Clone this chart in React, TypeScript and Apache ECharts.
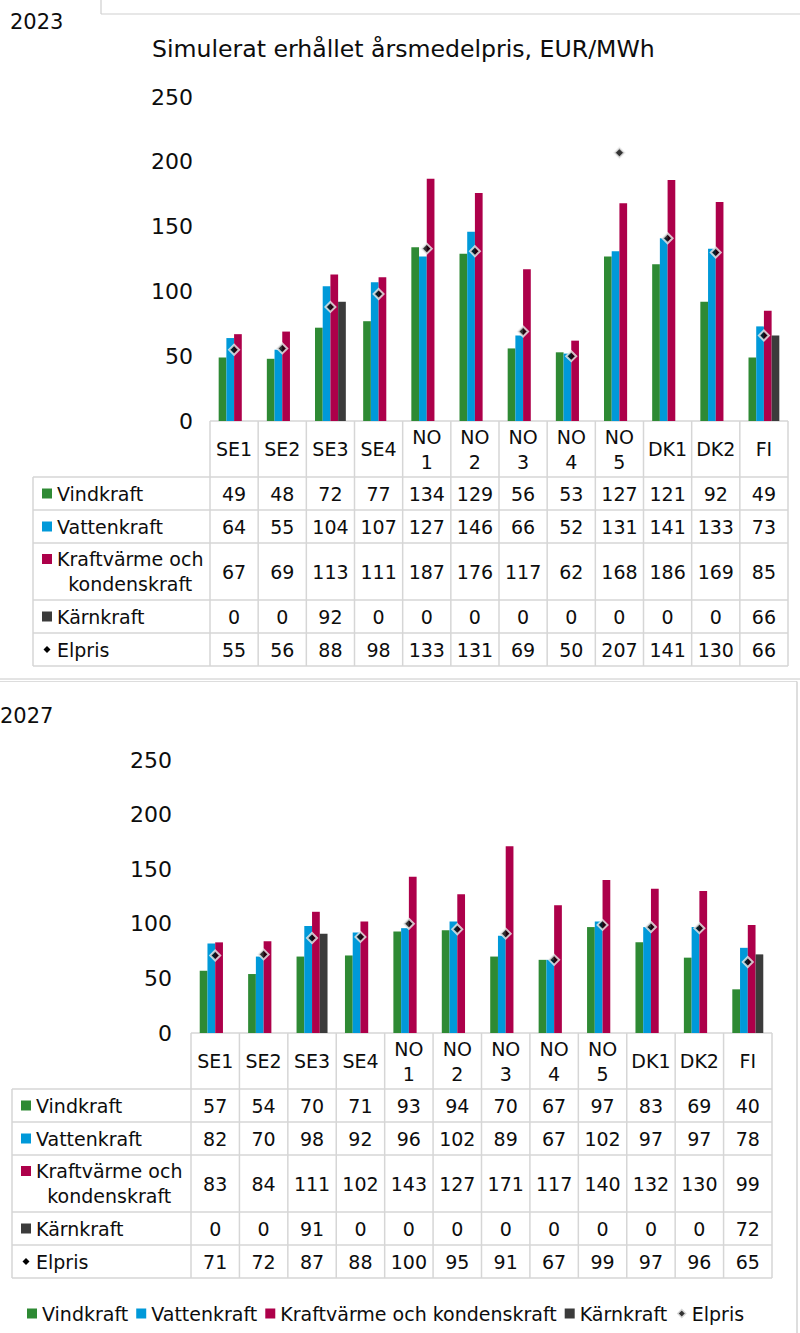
import React, { useEffect, useRef } from 'react';
import * as echarts from 'echarts';

// ---- data -------------------------------------------------------------
const zones = ['SE1', 'SE2', 'SE3', 'SE4', 'NO 1', 'NO 2', 'NO 3', 'NO 4', 'NO 5', 'DK1', 'DK2', 'FI'];
const seriesNames = ['Vindkraft', 'Vattenkraft', 'Kraftvärme och kondenskraft', 'Kärnkraft', 'Elpris'];
const rowLabels = ['Vindkraft', 'Vattenkraft', 'Kraftvärme och\nkondenskraft', 'Kärnkraft', 'Elpris'];
const yTicks = [0, 50, 100, 150, 200, 250];
const chartTitle = 'Simulerat erhållet årsmedelpris, EUR/MWh';

const wind2023 = [49, 48, 72, 77, 134, 129, 56, 53, 127, 121, 92, 49];
const hydro2023 = [64, 55, 104, 107, 127, 146, 66, 52, 131, 141, 133, 73];
const chp2023 = [67, 69, 113, 111, 187, 176, 117, 62, 168, 186, 169, 85];
const nuclear2023 = [0, 0, 92, 0, 0, 0, 0, 0, 0, 0, 0, 66];
const price2023 = [55, 56, 88, 98, 133, 131, 69, 50, 207, 141, 130, 66];

const wind2027 = [57, 54, 70, 71, 93, 94, 70, 67, 97, 83, 69, 40];
const hydro2027 = [82, 70, 98, 92, 96, 102, 89, 67, 102, 97, 97, 78];
const chp2027 = [83, 84, 111, 102, 143, 127, 171, 117, 140, 132, 130, 99];
const nuclear2027 = [0, 0, 91, 0, 0, 0, 0, 0, 0, 0, 0, 72];
const price2027 = [71, 72, 87, 88, 100, 95, 91, 67, 99, 97, 96, 65];

// ---- styling / layout ---------------------------------------------------
const FONT = "'DejaVu Sans', Verdana, sans-serif";
const TEXT = '#0d0d0d';
const RULE = '#d6d6d6';
const COLORS = ['#2e8a34', '#0099d9', '#ad004a', '#3b3b3b', '#000000'];
const FS = 19;
const HEADER_H = 56;
const ROW_H = [33, 33, 57, 33, 33];

const panels = [
  {
    year: '2023',
    data: [wind2023, hydro2023, chp2023, nuclear2023, price2023],
    gridLeft: 210, gridWidth: 578, gridTop: 97, gridHeight: 324,
    labelLeft: 33, keyX: 42, textX: 57, yMargin: 17,
    yearX: 10, yearY: 22,
  },
  {
    year: '2027',
    data: [wind2027, hydro2027, chp2027, nuclear2027, price2027],
    gridLeft: 191, gridWidth: 581, gridTop: 760, gridHeight: 273,
    labelLeft: 12, keyX: 21, textX: 36, yMargin: 19,
    yearX: 0, yearY: 716,
  },
];

function textWidth(s: string, size: number) {
  const c = document.createElement('canvas').getContext('2d');
  if (!c) return s.length * size * 0.6;
  c.font = `${size}px ${FONT}`;
  return c.measureText(s).width;
}

function line(x1: number, y1: number, x2: number, y2: number, stroke = RULE, lineWidth = 1.5) {
  return { type: 'line', silent: true, shape: { x1, y1, x2, y2 }, style: { stroke, lineWidth } };
}

function tableGraphics(p: any) {
  const out: any[] = [];
  const colW = p.gridWidth / zones.length;
  const top = p.gridTop + p.gridHeight;
  const right = p.gridLeft + p.gridWidth;
  const bounds = [top + HEADER_H];
  ROW_H.forEach((h) => bounds.push(bounds[bounds.length - 1] + h));
  const bottom = bounds[bounds.length - 1];

  // grid lines
  out.push(line(p.gridLeft, top, right, top));
  bounds.forEach((y) => out.push(line(p.labelLeft, y, right, y)));
  out.push(line(p.labelLeft, bounds[0], p.labelLeft, bottom));
  for (let i = 0; i <= zones.length; i++) {
    const x = p.gridLeft + i * colW;
    out.push(line(x, top, x, bottom));
  }

  // row labels with series keys, and values
  rowLabels.forEach((label, r) => {
    const cy = (bounds[r] + bounds[r + 1]) / 2;
    const lines = label.split('\n');
    const keyY = lines.length > 1 ? cy - 12.5 : cy;
    if (r === 4) {
      out.push({
        type: 'polygon', silent: true,
        shape: { points: [[p.keyX + 5, keyY - 3.5], [p.keyX + 8.5, keyY], [p.keyX + 5, keyY + 3.5], [p.keyX + 1.5, keyY]] },
        style: { fill: COLORS[r] },
      });
    } else {
      out.push({
        type: 'rect', silent: true,
        shape: { x: p.keyX, y: keyY - 5, width: 10, height: 10 },
        style: { fill: COLORS[r] },
      });
    }
    if (lines.length > 1) {
      const w = textWidth(lines[0], FS);
      out.push({
        type: 'text', silent: true, x: p.textX + w / 2, y: cy,
        style: { text: label, fill: TEXT, font: `${FS}px ${FONT}`, textAlign: 'center', textVerticalAlign: 'middle', lineHeight: 25 },
      });
    } else {
      out.push({
        type: 'text', silent: true, x: p.textX, y: cy,
        style: { text: label, fill: TEXT, font: `${FS}px ${FONT}`, textAlign: 'left', textVerticalAlign: 'middle' },
      });
    }
    p.data[r].forEach((v: number, i: number) => {
      out.push({
        type: 'text', silent: true, x: p.gridLeft + (i + 0.5) * colW, y: cy,
        style: { text: String(v), fill: TEXT, font: `${FS}px ${FONT}`, textAlign: 'center', textVerticalAlign: 'middle' },
      });
    });
  });
  return out;
}

function buildOption() {
  const grid: any[] = [];
  const xAxis: any[] = [];
  const yAxis: any[] = [];
  const series: any[] = [];
  const graphic: any[] = [];

  panels.forEach((p, k) => {
    grid.push({ left: p.gridLeft, top: p.gridTop, width: p.gridWidth, height: p.gridHeight, containLabel: false });
    xAxis.push({
      type: 'category', gridIndex: k, data: zones,
      axisLine: { show: false }, axisTick: { show: false },
      axisLabel: {
        interval: 0, margin: 28, verticalAlign: 'middle', lineHeight: 25,
        fontSize: FS, fontFamily: FONT, color: TEXT,
        formatter: (v: string) => v.replace(' ', '\n'),
      },
    });
    yAxis.push({
      type: 'value', gridIndex: k, min: yTicks[0], max: yTicks[yTicks.length - 1], interval: yTicks[1] - yTicks[0],
      axisLine: { show: false }, axisTick: { show: false }, splitLine: { show: false },
      axisLabel: { margin: p.yMargin, fontSize: 22, fontFamily: FONT, color: TEXT },
    });
    for (let s = 0; s < 4; s++) {
      series.push({
        type: 'bar', name: seriesNames[s], xAxisIndex: k, yAxisIndex: k, data: p.data[s],
        barGap: '0%', barCategoryGap: '36%',
        itemStyle: { color: COLORS[s] },
      });
    }
    series.push({
      type: 'scatter', name: seriesNames[4], xAxisIndex: k, yAxisIndex: k, data: p.data[4],
      symbol: 'diamond', symbolSize: 10, z: 5,
      itemStyle: { color: '#000', borderColor: '#eeeeee', borderWidth: 2 },
    });
    graphic.push(...tableGraphics(p));
    graphic.push({
      type: 'text', silent: true, x: p.yearX, y: p.yearY,
      style: { text: p.year, fill: TEXT, font: `21px ${FONT}`, textAlign: 'left', textVerticalAlign: 'middle' },
    });
  });

  // chart title and panel frames
  graphic.push({
    type: 'text', silent: true, x: 152, y: 49,
    style: { text: chartTitle, fill: TEXT, font: `23.6px ${FONT}`, textAlign: 'left', textVerticalAlign: 'middle' },
  });
  graphic.push(line(101, 0, 101, 14, '#cfcfcf', 1.2));
  graphic.push(line(101, 14, 800, 14, '#cfcfcf', 1.2));
  graphic.push(line(0, 679, 800, 679, '#c8c8c8', 1));
  graphic.push(line(0, 681.5, 797, 681.5, '#dddddd', 1));
  graphic.push(line(797, 681.5, 797, 1333, '#c8c8c8', 1.2));

  return {
    animation: false,
    backgroundColor: '#ffffff',
    textStyle: { fontFamily: FONT },
    grid, xAxis, yAxis, series, graphic,
    legend: {
      left: 22, top: 1299, itemWidth: 10, itemHeight: 10, itemGap: 8,
      selectedMode: false,
      textStyle: { fontSize: FS, fontFamily: FONT, color: TEXT },
      data: [
        { name: seriesNames[0], icon: 'rect' },
        { name: seriesNames[1], icon: 'rect' },
        { name: seriesNames[2], icon: 'rect' },
        { name: seriesNames[3], icon: 'rect' },
        { name: seriesNames[4], icon: 'diamond', itemStyle: { borderColor: '#ffffff', borderWidth: 3 } },
      ],
    },
  };
}

export default function App() {
  const ref = useRef<HTMLDivElement>(null);
  useEffect(() => {
    if (!ref.current) return;
    const chart = echarts.init(ref.current, undefined, { renderer: 'svg' });
    chart.setOption(buildOption() as any);
    return () => chart.dispose();
  }, []);
  return (
    <div
      ref={ref}
      style={{ position: 'absolute', left: 0, top: 0, width: 800, height: 1333, background: '#fff' }}
    />
  );
}
